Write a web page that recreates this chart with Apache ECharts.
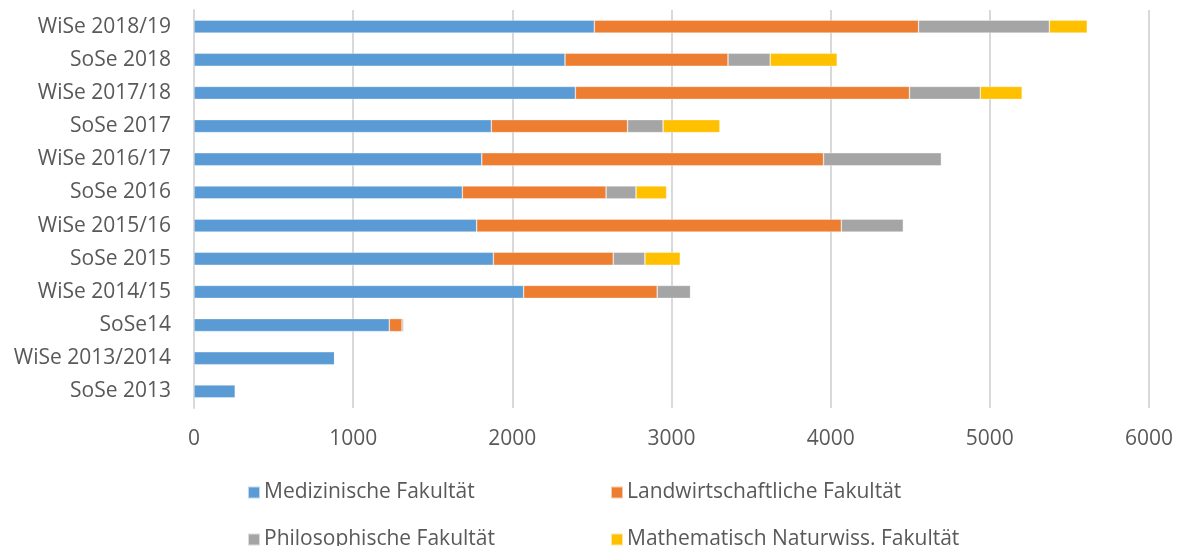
<!DOCTYPE html>
<html>
<head>
<meta charset="utf-8">
<script src="https://cdn.jsdelivr.net/npm/echarts@6/dist/echarts.min.js"></script>
<style>
html,body{margin:0;padding:0;background:#fff;}
#chart{width:1180px;height:546px;}
</style>
</head>
<body>
<div id="chart"></div>
<script>
const categories = ['SoSe 2013','WiSe 2013/2014','SoSe14','WiSe 2014/15','SoSe 2015','WiSe 2015/16','SoSe 2016','WiSe 2016/17','SoSe 2017','WiSe 2017/18','SoSe 2018','WiSe 2018/19'];
const seriesNames = ['Medizinische Fakultät','Landwirtschaftliche Fakultät','Philosophische Fakultät','Mathematisch Naturwiss. Fakultät'];
const medizin = [260, 884, 1227, 2071, 1881, 1776, 1686, 1808, 1868, 2396, 2331, 2515];
const landwirtschaft = [0, 0, 80, 839, 753, 2291, 903, 2147, 856, 2099, 1024, 2037];
const philosophie = [0, 0, 11, 210, 199, 390, 188, 741, 223, 445, 265, 822];
const mathematik = [0, 0, 0, 0, 222, 0, 192, 0, 357, 263, 421, 238];
const xTicks = [0, 1000, 2000, 3000, 4000, 5000, 6000];

const colors = ['#5B9BD5','#ED7D31','#A5A5A5','#FFC000'];
const values = [medizin, landwirtschaft, philosophie, mathematik];
const font = '"Open Sans", sans-serif';
const textColor = '#595959';

const chart = echarts.init(document.getElementById('chart'));
const legendPos = [
  {left: 247, top: 482},
  {left: 610, top: 482},
  {left: 247, top: 529},
  {left: 610, top: 529}
];
chart.setOption({
  animation: false,
  backgroundColor: '#fff',
  grid: {left: 194, right: 31, top: 10, height: 398, containLabel: false},
  xAxis: {
    type: 'value',
    min: xTicks[0],
    max: xTicks[xTicks.length - 1],
    interval: 1000,
    axisLine: {show: false},
    axisTick: {show: false},
    splitLine: {show: true, lineStyle: {color: '#D9D9D9', width: 2}},
    axisLabel: {color: textColor, fontSize: 21, fontFamily: font, margin: 21,
      formatter: v => String(v)}
  },
  yAxis: {
    type: 'category',
    data: categories,
    axisLine: {show: true, lineStyle: {color: '#D9D9D9', width: 2}},
    axisTick: {show: false},
    axisLabel: {color: textColor, fontSize: 21, fontFamily: font, margin: 23}
  },
  legend: seriesNames.map((n, i) => ({
    data: [{name: n, icon: 'rect'}],
    left: legendPos[i].left,
    top: legendPos[i].top,
    padding: 0,
    itemWidth: 12,
    itemHeight: 12,
    itemGap: 4,
    selectedMode: false,
    textStyle: {color: textColor, fontSize: 21, fontFamily: font, padding: [0,0,0,-1]}
  })),
  series: seriesNames.map((n, i) => ({
    name: n,
    type: 'bar',
    stack: 'total',
    barWidth: 13,
    itemStyle: {color: colors[i], borderColor: 'rgba(255,255,255,0.6)', borderWidth: 0.6},
    data: values[i]
  }))
});
</script>
</body>
</html>
